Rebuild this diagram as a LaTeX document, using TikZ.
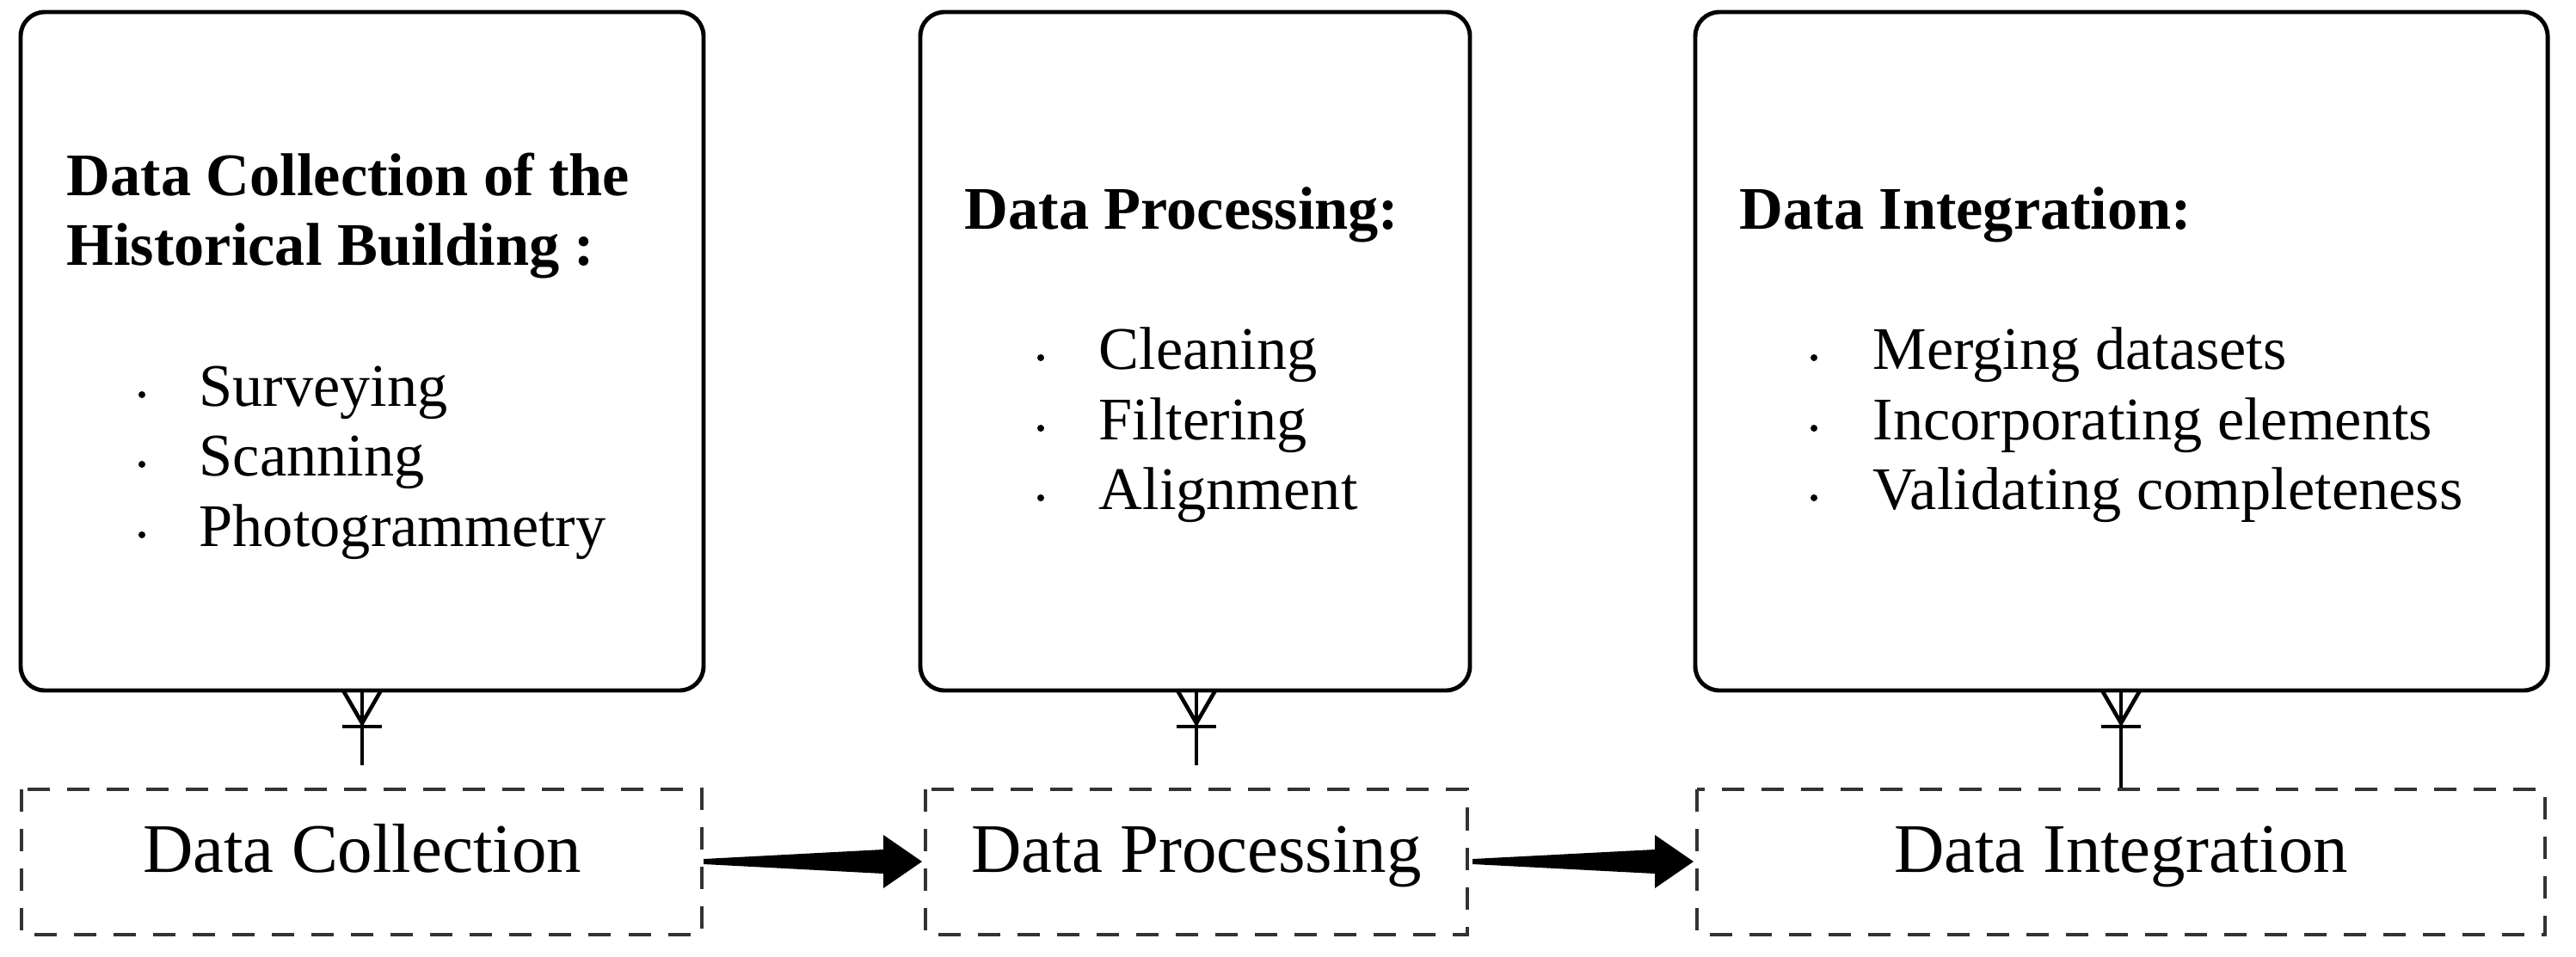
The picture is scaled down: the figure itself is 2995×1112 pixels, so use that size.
\documentclass[tikz,border=0pt]{standalone}
\usepackage{fontspec}
\setmainfont{Liberation Serif}
\begin{document}
\begin{tikzpicture}[x=0.01cm,y=-0.01cm,
  box/.style={draw,line width=1.4pt,rounded corners=0.28cm},
  dbox/.style={draw=black!80,line width=0.9pt,dash pattern=on 0.26cm off 0.2cm},
  head/.style={anchor=base west,font=\fontsize{20}{24}\selectfont\bfseries,align=left,inner sep=0pt},
  item/.style={anchor=base west,font=\fontsize{20}{24}\selectfont,inner sep=0pt},
  bul/.style={circle,fill,inner sep=0pt,minimum size=0.08cm},
  lab/.style={font=\fontsize{23}{27}\selectfont,inner sep=0pt,anchor=base},
  conn/.style={line width=1.3pt},
  fat/.style={fill=black,draw=none}]
\useasboundingbox (0,0) rectangle (2995,1112);
% top boxes
\draw[box] (24,14) rectangle (818,803);
\draw[box] (1070,14) rectangle (1709,803);
\draw[box] (1971,14) rectangle (2962,803);
\coordinate (b1) at (421,803); \coordinate (b2) at (1391,803); \coordinate (b3) at (2466,803);
% texts
\node[head] (h1a) at (77,227) {Data Collection of the};
\node[head] (h1b) at (77,308) {Historical Building :};
\node[head] (h2) at (1121,266) {Data Processing:};
\node[head] (h3) at (2022,266) {Data Integration:};
\foreach \y/\t [count=\i] in {472/Surveying,553/Scanning,635/Photogrammetry}{
  \node[bul] (p1\i) at (165,\y-13) {};
  \node[item] (t1\i) at (231,\y) {\t};}
\foreach \y/\t [count=\i] in {429/Cleaning,511/Filtering,592/Alignment}{
  \node[bul] (p2\i) at (1210,\y-13) {};
  \node[item] (t2\i) at (1277,\y) {\t};}
\foreach \y/\t [count=\i] in {429/Merging datasets,511/Incorporating elements,592/Validating completeness}{
  \node[bul] (p3\i) at (2109,\y-13) {};
  \node[item] (t3\i) at (2177,\y) {\t};}
% dashed boxes
\draw[dbox] (25,918) rectangle (816,1087);
\draw[dbox] (1076,918) rectangle (1706,1087);
\draw[dbox] (1973,918) rectangle (2959,1087);
\node[lab] (l1) at (421,1014) {Data Collection};
\node[lab] (l2) at (1391,1014) {Data Processing};
\node[lab] (l3) at (2466,1014) {Data Integration};
\coordinate (e1) at (421,890); \coordinate (e2) at (1391,890); \coordinate (e3) at (2466,916);
% crow's feet
\foreach \i in {1,2,3}{
  \draw[conn] (b\i) -- (e\i);
  \draw[conn] ([xshift=-0.22cm]b\i) -- ([yshift=-0.38cm]b\i) -- ([xshift=0.22cm]b\i);
  \draw[conn] ([xshift=-0.23cm,yshift=-0.42cm]b\i) -- ([xshift=0.23cm,yshift=-0.42cm]b\i);
}
% tapered arrows
\coordinate (a1s) at (818,1002); \coordinate (a1t) at (1072,1002);
\coordinate (a2s) at (1712,1002); \coordinate (a2t) at (1969,1002);
\fill[fat] (818,999) -- (1027,988) -- (1027,971) -- (1072,1002) -- (1027,1033) -- (1027,1016) -- (818,1005) -- cycle;
\fill[fat] (1712,999) -- (1924,988) -- (1924,971) -- (1969,1002) -- (1924,1033) -- (1924,1016) -- (1712,1005) -- cycle;
\end{tikzpicture}
\end{document}
